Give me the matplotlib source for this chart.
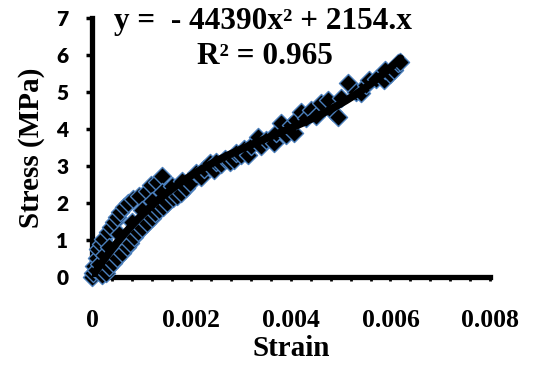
import numpy as np
import matplotlib.pyplot as plt
from matplotlib.ticker import MultipleLocator

strain = [0, 0.00003, 0.00005, 0.00008, 0.0001, 0.00013, 0.00015, 0.00018, 0.0002, 0.00022, 0.00025, 0.00028,
          # upper loading branch
          0.00032, 0.00038, 0.00044, 0.0005, 0.00057, 0.00065, 0.00073, 0.00082, 0.00095, 0.0011, 0.00118, 0.0013, 0.0014,
          # middle
          0.00035, 0.00055, 0.0008, 0.001, 0.0012, 0.0014, 0.0016, 0.0018,
          # lower branch
          0.00035, 0.00042, 0.0005, 0.00061, 0.0007, 0.00077, 0.00085, 0.00093, 0.001, 0.00111, 0.0012, 0.00127,
          0.00135, 0.00143, 0.0015, 0.00162, 0.0017, 0.00178, 0.00188, 0.00198,
          # upper part of the curve
          0.0021, 0.0022, 0.00225, 0.00238, 0.00245, 0.0025, 0.0026, 0.00268, 0.00278, 0.00285, 0.0029, 0.003,
          0.00305, 0.00313, 0.0032, 0.00333, 0.0034, 0.0035, 0.00366, 0.0037, 0.0038, 0.0039, 0.004, 0.00406,
          0.0041, 0.0042, 0.0043, 0.0044, 0.0045, 0.0046, 0.00475, 0.00485, 0.00495, 0.005, 0.00515, 0.0053,
          0.0054, 0.0055, 0.00556, 0.0057, 0.00588, 0.0059, 0.006, 0.00608, 0.00616, 0.0062]
stress = [0, 0.12, 0.3, 0.2, 0.5, 0.75, 0.35, 0.9, 0.05, 1.02, 0.6, 0.12,
          1.22, 1.35, 1.5, 1.62, 1.75, 1.88, 2.0, 2.1, 2.2, 2.32, 2.5, 2.58, 2.72,
          0.8, 1.15, 1.5, 1.8, 2.05, 2.3, 2.45, 2.6,
          0.27, 0.38, 0.5, 0.65, 0.8, 0.92, 1.07, 1.22, 1.33, 1.46, 1.6, 1.73,
          1.8, 1.89, 2.0, 2.14, 2.2, 2.27, 2.4, 2.54,
          2.8, 2.7, 2.92, 3.08, 2.9, 3.1, 3.05, 3.2, 3.12, 3.16, 3.35, 3.3,
          3.45, 3.3, 3.55, 3.78, 3.55, 3.7, 3.62, 3.9, 4.16, 3.85, 4.1, 3.89,
          4.25, 4.45, 4.3, 4.51, 4.35, 4.7, 4.78, 4.45, 4.32, 4.85, 5.24, 5.0,
          4.97, 5.2, 5.32, 5.35, 5.32, 5.6, 5.5, 5.59, 5.78, 5.8]

x_ticks = [0, 0.002, 0.004, 0.006, 0.008]
x_tick_labels = ['0', '0.002', '0.004', '0.006', '0.008']
y_ticks = [0, 1, 2, 3, 4, 5, 6, 7]

serif = 'Liberation Serif'

x = np.array(strain)
y = np.array(stress)

# smooth trend line through the origin, least squares on the points
A = np.column_stack([x ** 3, x ** 2, x])
coef = np.linalg.lstsq(A, y, rcond=None)[0]
xf = np.linspace(0, x.max(), 200)
yf = np.column_stack([xf ** 3, xf ** 2, xf]) @ coef

fig = plt.figure(figsize=(5.33, 3.68), dpi=100)
ax = fig.add_axes([0.1726, 0.2473, 0.7466, 0.7037])

ax.scatter(x, y, marker='D', s=85, facecolor='black', edgecolor='#4a7ebb',
           linewidth=1.0, zorder=3, clip_on=False)
ax.plot(xf, yf, color='black', linewidth=5.5, zorder=4, solid_capstyle='round')

ax.set_xlim(0, 0.008)
ax.set_ylim(0, 7)
ax.set_xticks(x_ticks)
ax.set_xticklabels(x_tick_labels)
ax.set_yticks(y_ticks)
ax.xaxis.set_minor_locator(MultipleLocator(0.0004))

for side in ['top', 'right']:
    ax.spines[side].set_visible(False)
for side in ['left', 'bottom']:
    ax.spines[side].set_linewidth(3.8)

ax.tick_params(axis='x', which='both', direction='out', length=3, width=2, pad=20)
ax.tick_params(axis='y', which='major', direction='out', length=4, width=2.5, pad=13)

for lbl in ax.get_xticklabels():
    lbl.set_fontfamily(serif)
    lbl.set_fontweight('bold')
    lbl.set_fontsize(18.5)
for lbl in ax.get_yticklabels():
    lbl.set_fontfamily('Lato')
    lbl.set_fontweight('heavy')
    lbl.set_fontsize(15)

ax.set_xlabel('Strain', fontfamily=serif, fontweight='bold', fontsize=21, labelpad=2)
ax.set_ylabel('Stress (MPa)', fontfamily=serif, fontweight='bold', fontsize=21, labelpad=8)

fig.text(263 / 533, 1 - 22 / 368, 'y =  - 44390x\u00b2 + 2154.x', fontfamily=serif, fontweight='bold',
         fontsize=22.5, ha='center', va='center')
fig.text(265 / 533, 1 - 57 / 368, 'R\u00b2 = 0.965', fontfamily=serif, fontweight='bold',
         fontsize=22.5, ha='center', va='center')

fig.savefig('out.png', dpi=100)
